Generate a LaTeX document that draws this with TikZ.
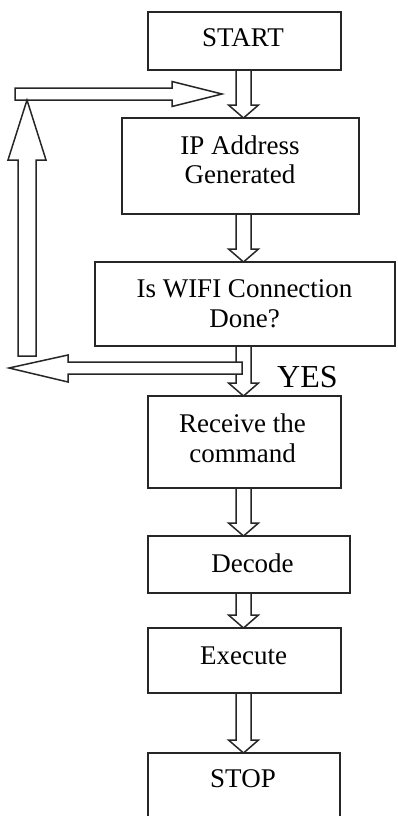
\documentclass[tikz,border=0pt]{standalone}
\usepackage{fontspec}
\setmainfont{Liberation Serif}
\usetikzlibrary{calc}
\tikzset{
  box/.style={draw=black!85, line width=1.8pt, fill=white, rectangle, inner sep=0pt, outer sep=0pt},
  lbl/.style={font=\fontsize{27}{29.5}\selectfont, align=center, inner sep=0pt, text=black},
  blk/.style={draw=black!85, line width=1.5pt, fill=white, line join=miter},
}
\newcommand\blkdown[2]{%
  \draw[blk] let \p1=(#1.south), \p2=(#2.north), \p3=(spine) in
    (\x3-7.5pt,\y1) -- (\x3+7.5pt,\y1) -- (\x3+7.5pt,\y2+13pt) -- (\x3+15pt,\y2+13pt)
    -- (\x3,\y2) -- (\x3-15pt,\y2+13pt) -- (\x3-7.5pt,\y2+13pt) -- cycle;}
\begin{document}
\begin{tikzpicture}[x=1pt,y=-1pt]
\useasboundingbox (0,0) rectangle (397,816);
\clip (0,0) rectangle (397,816);
\coordinate (spine) at (243.5,0);

% boxes
\node[box, minimum width=193pt, minimum height=58pt] (start) at (244.5,41) {};
\node[box, minimum width=237pt, minimum height=96pt] (ip) at (240.5,166) {};
\node[box, minimum width=300pt, minimum height=84pt] (wifi) at (245,304) {};
\node[box, minimum width=193pt, minimum height=92pt] (rec) at (244.5,442) {};
\node[box, minimum width=202pt, minimum height=57pt] (dec) at (249,564.5) {};
\node[box, minimum width=193pt, minimum height=65pt] (exe) at (244.5,660.5) {};
\node[box, minimum width=192pt, minimum height=110pt] (stop) at (244,808) {};

% texts
\node[lbl] (startT) at (243,37.5) {START};
\node[lbl] (ipT) at (240,160) {IP Address\\Generated};
\node[lbl] (wifiT) at (244.5,303.5) {Is WIFI Connection\\Done?};
\node[lbl] (recT) at (242.5,438.5) {Receive the\\command};
\node[lbl] (decT) at (252.5,563.5) {Decode};
\node[lbl] (exeT) at (243.5,655.5) {Execute};
\node[lbl] (stopT) at (243,779) {STOP};
\node[font=\fontsize{32}{36}\selectfont, inner sep=0pt, anchor=base west] (yes) at (277,387) {YES};

% down block arrows
\blkdown{start}{ip}
\blkdown{ip}{wifi}
\blkdown{wifi}{rec}
\blkdown{rec}{dec}
\blkdown{dec}{exe}
\blkdown{exe}{stop}

% loop back arrows
\coordinate (loopR) at (242,368);
\coordinate (loopL) at (9,368);
\coordinate (upTip) at (27,100);
\coordinate (topTip) at (222,94);
\draw[blk] (loopR) ++(0,-6) -- (68,362) -- (68,355) -- (loopL) -- (68,382) -- (68,374) -- (242,374) -- cycle;
\draw[blk] (15,88) -- (172,88) -- (172,81.5) -- (topTip) -- (172,106.5) -- (172,100) -- (15,100) -- cycle;
\draw[blk] (18,356) -- (18,160) -- (8,160) -- (upTip) -- (46,160) -- (36,160) -- (36,356) -- cycle;
\end{tikzpicture}
\end{document}
